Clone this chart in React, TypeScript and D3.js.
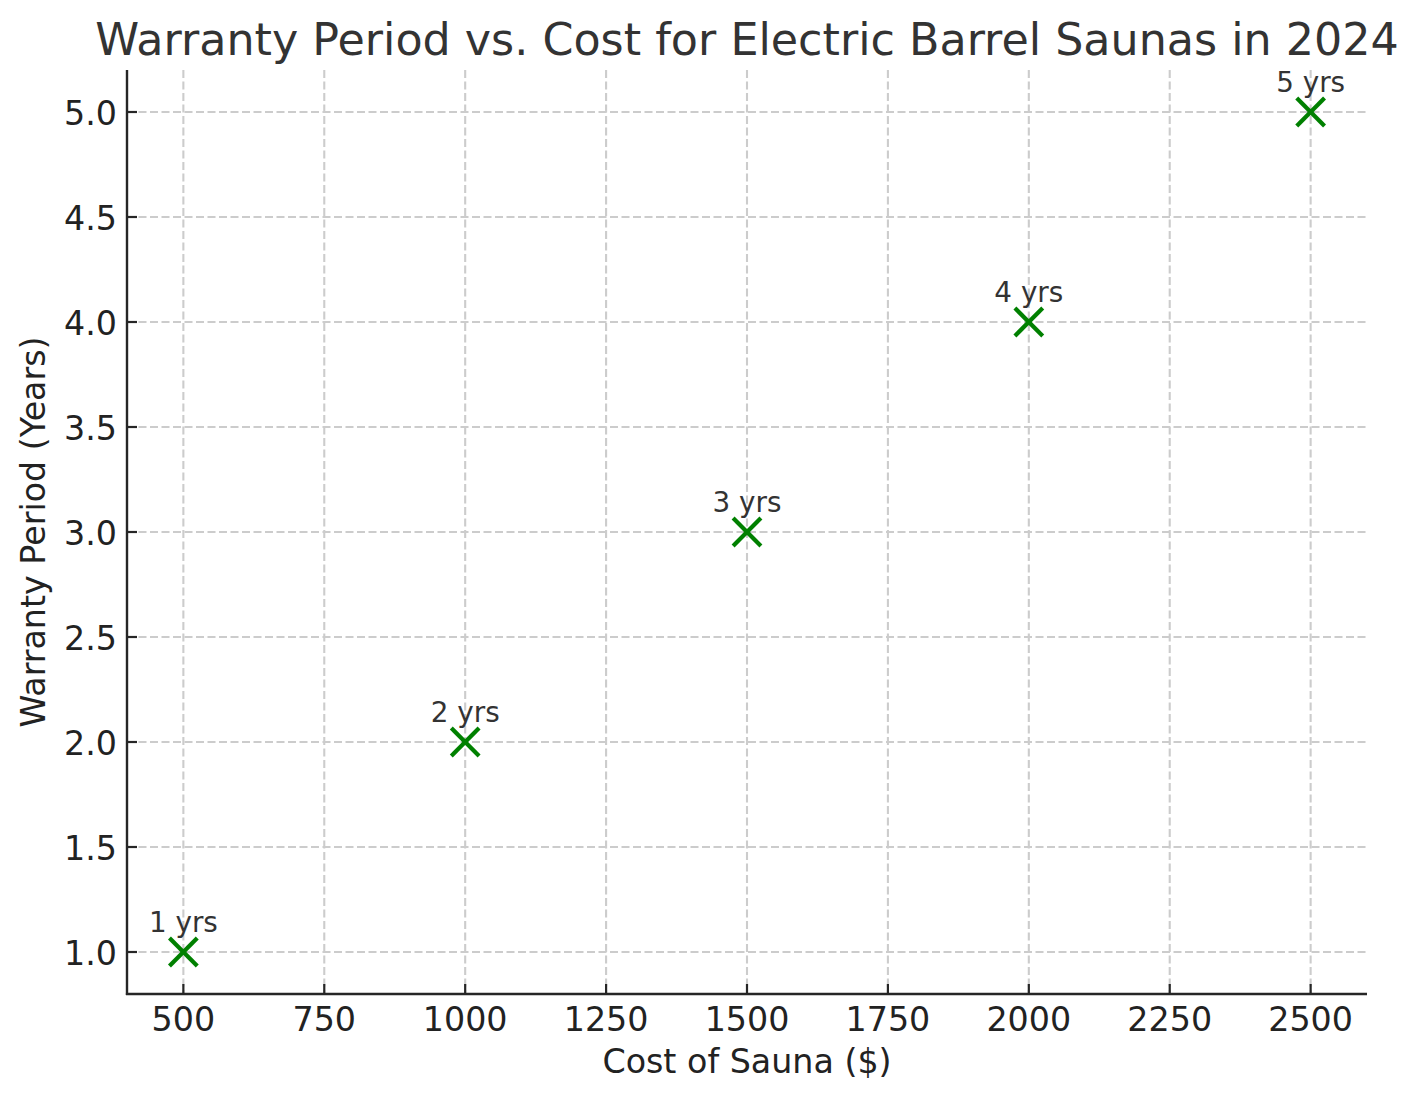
import React from "react";
import * as d3 from "d3";

const costs = [500, 1000, 1500, 2000, 2500];
const warrantyYears = [1, 2, 3, 4, 5];
const pointLabels = ["1 yrs", "2 yrs", "3 yrs", "4 yrs", "5 yrs"];
const xTicks = [500, 750, 1000, 1250, 1500, 1750, 2000, 2250, 2500];
const yTicks = [1.0, 1.5, 2.0, 2.5, 3.0, 3.5, 4.0, 4.5, 5.0];

const W = 1420;
const H = 1101;
const M = { left: 127, right: 1367, top: 70, bottom: 994 };
const FONT = "'DejaVu Sans', sans-serif";

export default function App() {
  const x = d3.scaleLinear().domain([400, 2600]).range([M.left, M.right]);
  const y = d3.scaleLinear().domain([0.8, 5.2]).range([M.bottom, M.top]);
  const ms = 13.9;
  const axisColor = "#262626";
  const tickLabelColor = "#222222";

  return (
    <svg
      width={W}
      height={H}
      style={{ position: "absolute", left: 0, top: 0, background: "#fff" }}
      fontFamily={FONT}
    >
      <rect x={0} y={0} width={W} height={H} fill="#fff" />
      {/* grid */}
      <g stroke="#cccccc" strokeWidth={2.1} strokeDasharray="8,3.5">
        {xTicks.map((t) => (
          <line key={"gx" + t} x1={x(t)} x2={x(t)} y1={M.top} y2={M.bottom} />
        ))}
        {yTicks.map((t) => (
          <line key={"gy" + t} x1={M.left} x2={M.right} y1={y(t)} y2={y(t)} />
        ))}
      </g>
      {/* spines */}
      <line x1={M.left} x2={M.left} y1={M.top} y2={M.bottom + 1.1} stroke={axisColor} strokeWidth={2.4} />
      <line x1={M.left - 1.1} x2={M.right} y1={M.bottom} y2={M.bottom} stroke={axisColor} strokeWidth={2.4} />
      {/* ticks (inward) */}
      <g stroke={axisColor} strokeWidth={2.2}>
        {xTicks.map((t) => (
          <line key={"tx" + t} x1={x(t)} x2={x(t)} y1={M.bottom} y2={M.bottom - 10} />
        ))}
        {yTicks.map((t) => (
          <line key={"ty" + t} x1={M.left} x2={M.left + 10} y1={y(t)} y2={y(t)} />
        ))}
      </g>
      {/* tick labels */}
      <g fill={tickLabelColor} fontSize={33.3}>
        {xTicks.map((t) => (
          <text key={"lx" + t} x={x(t)} y={1030.5} textAnchor="middle">
            {t}
          </text>
        ))}
        {yTicks.map((t) => (
          <text key={"ly" + t} x={117} y={y(t) + 13} textAnchor="end">
            {d3.format(".1f")(t)}
          </text>
        ))}
      </g>
      {/* axis labels */}
      <text x={(M.left + M.right) / 2} y={1073.3} textAnchor="middle" fontSize={33.3} fill={tickLabelColor}>
        Cost of Sauna ($)
      </text>
      <text
        transform={`translate(45,${(M.top + M.bottom) / 2}) rotate(-90)`}
        textAnchor="middle"
        fontSize={33.3}
        fill={tickLabelColor}
      >
        Warranty Period (Years)
      </text>
      {/* title */}
      <text x={(M.left + M.right) / 2} y={55} textAnchor="middle" fontSize={44.4} fill="#333333">
        Warranty Period vs. Cost for Electric Barrel Saunas in 2024
      </text>
      {/* points */}
      <g stroke="#008000" strokeWidth={4.2}>
        {costs.map((c, i) => {
          const cx = x(c);
          const cy = y(warrantyYears[i]);
          return (
            <g key={"p" + i}>
              <line x1={cx - ms} y1={cy - ms} x2={cx + ms} y2={cy + ms} />
              <line x1={cx - ms} y1={cy + ms} x2={cx + ms} y2={cy - ms} />
            </g>
          );
        })}
      </g>
      {/* annotations */}
      <g fill="#333333" fontSize={27.8}>
        {costs.map((c, i) => (
          <text key={"a" + i} x={x(c)} y={y(warrantyYears[i]) - 20.5} textAnchor="middle">
            {pointLabels[i]}
          </text>
        ))}
      </g>
    </svg>
  );
}
